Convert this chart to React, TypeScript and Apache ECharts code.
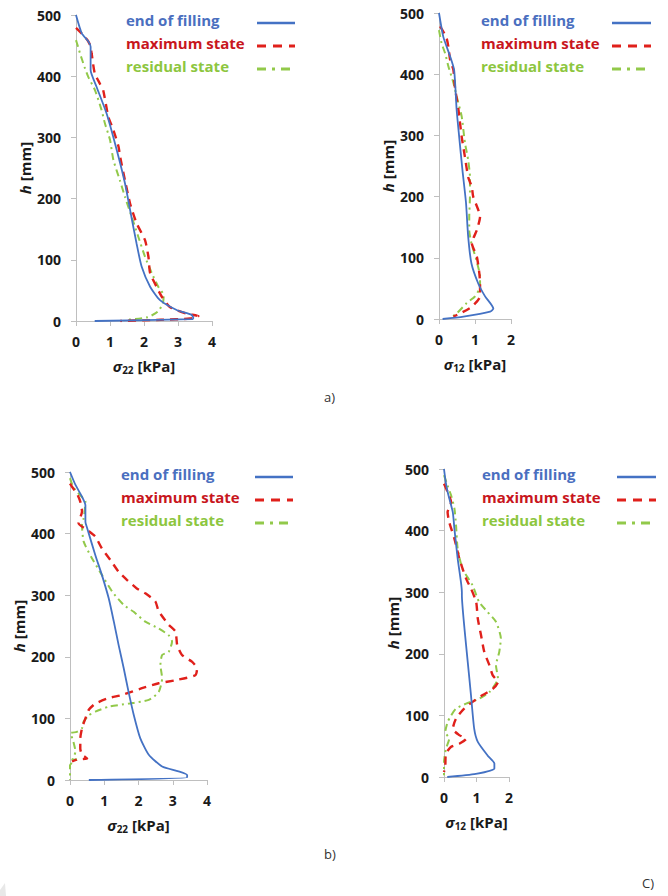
import React, { useEffect, useRef } from "react";
import * as echarts from "echarts";

type P = [number, number];

const seriesNames = ["end of filling", "maximum state", "residual state"];
const xTicks22 = [0, 1, 2, 3, 4];
const xTicks12 = [0, 1, 2];
const hTicks = [0, 100, 200, 300, 400, 500];

// a) sigma22
const aS22End: P[] = [[0,500],[0.17,470],[0.36,457],[0.43,448],[0.43,410],[0.61,382],[0.9,339],[1.2,279],[1.44,225],[1.63,170],[1.78,127],[1.93,89],[2.18,56],[2.47,34],[2.96,18],[3.4,10],[3.45,5],[3.42,3],[0.55,0]];
const aS22Max: P[] = [[0,479],[0.2,468],[0.35,458],[0.42,450],[0.46,437],[0.55,405],[0.7,388],[0.8,377],[0.95,334],[1.1,312],[1.25,285],[1.3,268],[1.44,230],[1.59,192],[1.78,160],[2.03,132],[2.13,105],[2.18,78],[2.37,56],[2.52,40],[2.76,23],[3.25,12],[3.6,8],[3.35,4],[2.5,2],[1.3,0]];
const aS22Res: P[] = [[0,459],[0.05,450],[0.12,437],[0.25,415],[0.36,399],[0.56,377],[0.75,345],[0.85,323],[1.0,296],[1.1,263],[1.29,230],[1.44,203],[1.64,170],[1.83,138],[2.03,105],[2.23,78],[2.42,56],[2.58,42],[2.55,28],[2.4,15],[2.1,6],[1.5,2]];

// a) sigma12
const aS12End: P[] = [[0,500],[0.12,461],[0.31,429],[0.42,407],[0.49,342],[0.56,298],[0.65,244],[0.75,190],[0.81,135],[0.9,91],[1.09,58],[1.28,37],[1.51,17],[1.42,12],[0.68,4],[0.1,0]];
const aS12Max: P[] = [[0.03,478],[0.2,461],[0.26,445],[0.31,423],[0.4,407],[0.44,380],[0.54,342],[0.63,298],[0.72,265],[0.81,232],[0.91,216],[0.95,200],[1.14,167],[1.05,145],[0.91,124],[1.05,102],[1.12,75],[1.14,58],[1.14,37],[0.91,20],[0.58,9],[0.4,4]];
const aS12Res: P[] = [[0,472],[0.07,451],[0.17,434],[0.26,413],[0.4,386],[0.49,364],[0.63,331],[0.72,288],[0.81,260],[0.86,232],[0.86,200],[0.84,167],[0.84,145],[0.9,124],[1.04,96],[1.14,69],[1.14,53],[1.0,37],[0.77,26],[0.49,9],[0.3,1]];

// b) sigma22
const bS22End: P[] = [[0,500],[0.16,479],[0.35,460],[0.45,446],[0.45,419],[0.5,409],[0.74,365],[0.93,333],[1.13,295],[1.28,257],[1.42,219],[1.57,181],[1.71,143],[1.86,106],[2.05,68],[2.3,41],[2.69,22],[3.17,14],[3.42,8],[3.42,4],[0.55,0]];
const bS22Max: P[] = [[0,481],[0.06,476],[0.2,465],[0.3,452],[0.35,436],[0.25,417],[0.5,406],[0.74,395],[0.93,376],[1.18,357],[1.42,338],[1.66,325],[1.95,311],[2.2,303],[2.49,290],[2.59,274],[2.88,252],[3.08,241],[3.13,219],[3.27,203],[3.56,192],[3.71,181],[3.66,170],[3.08,162],[2.59,157],[2.1,149],[1.52,138],[1.13,133],[0.74,124],[0.55,114],[0.45,100],[0.35,84],[0.3,67],[0.3,51],[0.35,41],[0.5,35],[0.2,33],[0.06,30]];
const bS22Res: P[] = [[0,490],[0.1,475],[0.3,462],[0.45,452],[0.4,425],[0.35,414],[0.4,387],[0.64,360],[0.93,333],[1.23,306],[1.57,284],[1.86,273],[2.2,257],[2.59,246],[2.88,235],[2.98,225],[2.88,208],[2.69,203],[2.64,187],[2.69,165],[2.59,143],[2.3,130],[1.71,124],[1.13,119],[0.74,111],[0.55,105],[0.4,95],[0.35,84],[0.2,78],[0.02,76],[0.1,62],[0.16,46],[0.06,32],[0.25,35],[0,24],[0,0]];

// b) sigma12
const bS12End: P[] = [[0,500],[0.05,480],[0.11,463],[0.27,430],[0.32,403],[0.42,355],[0.52,317],[0.55,300],[0.55,295],[0.63,241],[0.73,187],[0.83,133],[0.93,78],[1.04,57],[1.34,35],[1.55,22],[1.55,14],[0.98,5],[0.1,0]];
const bS12Max: P[] = [[0,476],[0.11,463],[0.22,446],[0.11,430],[0.16,414],[0.32,387],[0.47,355],[0.68,322],[0.83,306],[0.99,284],[1.04,257],[1.14,230],[1.24,203],[1.4,181],[1.5,165],[1.66,154],[1.5,143],[1.19,133],[0.88,122],[0.62,111],[0.37,95],[0.27,78],[0.47,68],[0.68,62],[0.47,54],[0.22,49],[0.06,38],[0.04,19],[0,8]];
const bS12Res: P[] = [[0,490],[0.11,473],[0.22,457],[0.32,436],[0.37,409],[0.42,371],[0.57,338],[0.88,311],[1.08,284],[1.34,268],[1.6,252],[1.75,225],[1.7,203],[1.6,181],[1.66,160],[1.4,138],[1.08,127],[0.68,119],[0.37,111],[0.22,100],[0.11,89],[0.04,73],[0.16,62],[0.06,46],[0,24],[0,3]];

const FONT = "'Open Sans', 'Liberation Sans', sans-serif";
const LINE_COLORS = ["#4472C4", "#E0201B", "#92C94A"];
const TEXT_COLORS = ["#4A6FBF", "#C8161D", "#8DC63F"];
const LINE_STYLES: any[] = [
  { width: 1.8, type: "solid" },
  { width: 2.4, type: [8, 6] },
  { width: 2, type: [7, 4, 2, 4] },
];

const panels = [
  { grid: { left: 76, top: 15, width: 136, height: 306 }, xMax: 4, sub: "22", data: [aS22End, aS22Max, aS22Res], legend: { x: 126, y: 23, lx1: 257, lx2: 295 } },
  { grid: { left: 439, top: 13, width: 72, height: 306 }, xMax: 2, sub: "12", data: [aS12End, aS12Max, aS12Res], legend: { x: 481, y: 23, lx1: 612, lx2: 651 } },
  { grid: { left: 70, top: 472, width: 137, height: 308 }, xMax: 4, sub: "22", data: [bS22End, bS22Max, bS22Res], legend: { x: 121, y: 477, lx1: 255, lx2: 293 } },
  { grid: { left: 444, top: 469, width: 65, height: 308 }, xMax: 2, sub: "12", data: [bS12End, bS12Max, bS12Res], legend: { x: 482, y: 477, lx1: 617, lx2: 656 } },
];

export default function App() {
  const ref = useRef<HTMLDivElement>(null);
  useEffect(() => {
    if (!ref.current) return;
    const chart = echarts.init(ref.current, null, { renderer: "svg" });
    const axisLine = { show: true, lineStyle: { color: "#BFBFBF", width: 1 } };
    const axisTick = { show: true, length: 5, lineStyle: { color: "#BFBFBF" } };
    const labelStyle = { fontFamily: FONT, fontWeight: "bold" as const, fontSize: 14, color: "#1A1A1A" };

    const grids: any[] = [];
    const xAxes: any[] = [];
    const yAxes: any[] = [];
    const series: any[] = [];
    const graphics: any[] = [];

    panels.forEach((p, i) => {
      grids.push({ ...p.grid, containLabel: false });
      xAxes.push({
        type: "value",
        gridIndex: i,
        min: 0,
        max: p.xMax,
        interval: 1,
        splitLine: { show: false },
        axisLine,
        axisTick,
        axisLabel: { ...labelStyle, margin: 13 },
        name: `{s|σ}{sub|${p.sub}}{t| [kPa]}`,
        nameLocation: "middle",
        nameGap: 35,
        nameTextStyle: {
          rich: {
            s: { fontFamily: FONT, fontWeight: "bold", fontStyle: "italic", fontSize: 15, color: "#1A1A1A" },
            sub: { fontFamily: FONT, fontWeight: "bold", fontSize: 10, color: "#1A1A1A", padding: [9, 0, 0, 0] },
            t: { fontFamily: FONT, fontWeight: "bold", fontSize: 15, color: "#1A1A1A" },
          },
        },
      });
      yAxes.push({
        type: "value",
        gridIndex: i,
        min: 0,
        max: 500,
        interval: 100,
        splitLine: { show: false },
        axisLine,
        axisTick,
        axisLabel: { ...labelStyle, margin: 15 },
        name: "{h|h}{t| [mm]}",
        nameLocation: "middle",
        nameRotate: 90,
        nameGap: 44,
        nameTextStyle: {
          rich: {
            h: { fontFamily: FONT, fontWeight: "bold", fontStyle: "italic", fontSize: 15, color: "#1A1A1A" },
            t: { fontFamily: FONT, fontWeight: "bold", fontSize: 15, color: "#1A1A1A" },
          },
        },
      });
      p.data.forEach((d, k) => {
        series.push({
          type: "line",
          name: seriesNames[k],
          xAxisIndex: i,
          yAxisIndex: i,
          data: d,
          showSymbol: false,
          symbol: "none",
          smooth: 0.2,
          lineStyle: { color: LINE_COLORS[k], ...LINE_STYLES[k] },
          z: 3 - k,
        });
      });
      seriesNames.forEach((nm, k) => {
        const y = p.legend.y + k * 23;
        graphics.push({
          type: "text",
          left: p.legend.x,
          top: y - 11,
          style: { text: nm, fill: TEXT_COLORS[k], font: `bold 15px ${FONT}` },
        });
        graphics.push({
          type: "line",
          shape: { x1: p.legend.lx1, y1: y, x2: p.legend.lx2, y2: y },
          style: { stroke: LINE_COLORS[k], lineWidth: k === 0 ? 2.5 : 3, lineDash: k === 0 ? null : k === 1 ? [9, 7] : [9, 6, 3, 6] },
        });
      });
    });

    graphics.push({ type: "text", left: 324, top: 390, style: { text: "a)", fill: "#333", font: `13px ${FONT}` } });
    graphics.push({ type: "text", left: 324, top: 847, style: { text: "b)", fill: "#333", font: `13px ${FONT}` } });
    graphics.push({ type: "text", left: 642, top: 876, style: { text: "C)", fill: "#333", font: `13px ${FONT}` } });
    graphics.push({ type: "polygon", shape: { points: [[0, 896], [0, 890], [5, 883], [6, 896]] }, style: { fill: "#E8E8E8" } });

    chart.setOption({
      animation: false,
      backgroundColor: "#FFFFFF",
      grid: grids,
      xAxis: xAxes,
      yAxis: yAxes,
      series,
      graphic: graphics,
    });
    return () => chart.dispose();
  }, []);
  return <div ref={ref} style={{ position: "fixed", left: 0, top: 0, width: 668, height: 896 }} />;
}
